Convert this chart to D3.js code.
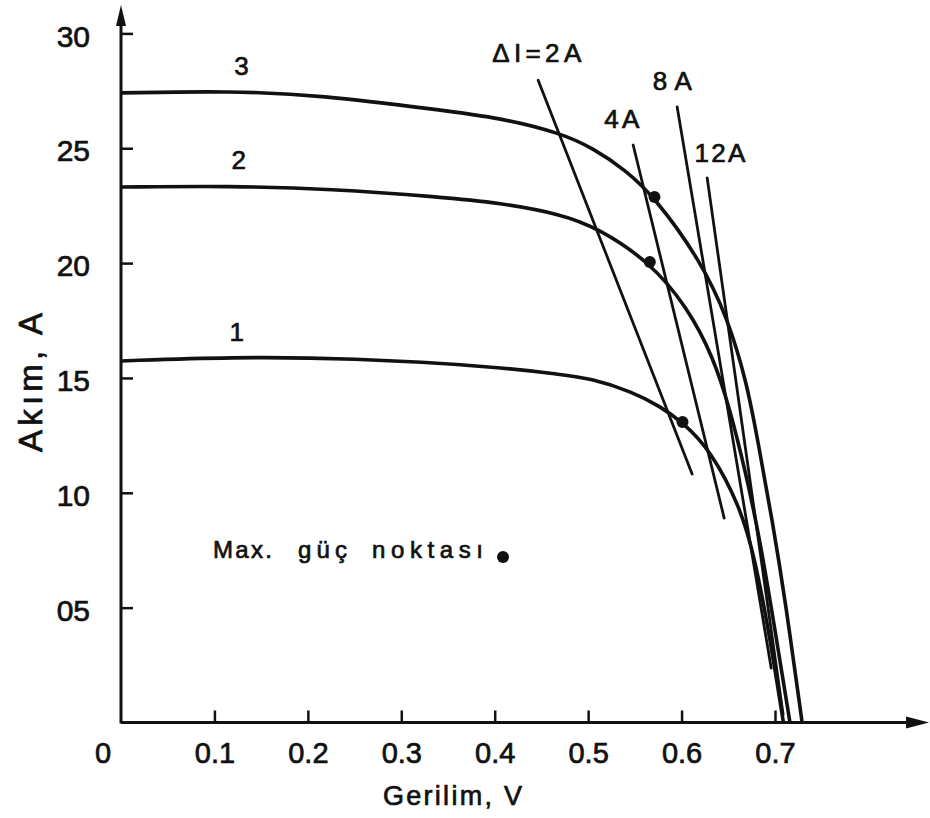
<!DOCTYPE html>
<html>
<head>
<meta charset="utf-8">
<script src="https://cdn.jsdelivr.net/npm/d3@7"></script>
<style>
  html, body { margin: 0; padding: 0; background: #fff; }
  svg { display: block; }
  text { font-family: "Liberation Sans", Arial, sans-serif; fill: #111; stroke: #111; stroke-width: 0.7px; }
</style>
</head>
<body>
<svg id="chart" width="930" height="818"></svg>
<script>
// I–V characteristics of a solar cell at three irradiance levels
// voltage in V, current in A
const curve1 = [[0,15.74],[0.117,15.91],[0.245,15.87],[0.406,15.48],[0.470,15.15],[0.502,14.99],[0.548,14.39],[0.577,13.76],[0.601,13.08],[0.631,11.86],[0.663,9.38],[0.679,7.07],[0.695,3.59],[0.709,0]];
const curve2 = [[0,23.31],[0.117,23.36],[0.224,23.23],[0.342,22.88],[0.406,22.62],[0.470,22.14],[0.510,21.54],[0.566,20.05],[0.606,18.09],[0.634,15.91],[0.652,13.60],[0.668,10.99],[0.684,7.95],[0.700,4.03],[0.716,0]];
const curve3 = [[0,27.41],[0.117,27.49],[0.213,27.32],[0.342,26.66],[0.406,26.32],[0.470,25.67],[0.505,25.01],[0.540,24.05],[0.571,22.88],[0.620,20.13],[0.649,17.65],[0.670,14.78],[0.682,12.17],[0.697,8.82],[0.711,5.33],[0.729,0]];
const curveNames = ["1", "2", "3"];
const curveLabelAt = [[0.124,16.6],[0.126,24.1],[0.129,28.2]];

// maximum power points of the three curves
const maxPowerPoints = [[0.601,13.08],[0.566,20.05],[0.571,22.88]];

// lines of constant current step ΔI
const stepNames = ["ΔI=2A", "4A", "8A", "12A"];
const stepLines = [
  [[0.4465,27.96],[0.6113,10.82]],
  [[0.5482,25.14],[0.6456,8.90]],
  [[0.5953,26.80],[0.6959,2.37]],
  [[0.6274,23.71],[0.7087,0.35]]
];
const stepLabelAt = [[0.445,28.75],[0.536,25.88],[0.590,27.54],[0.641,24.4]];
const stepLabelWidth = [89, 35, 39, 51];

const voltTicks = [0.1,0.2,0.3,0.4,0.5,0.6,0.7];
const voltTickLabels = ["0.1","0.2","0.3","0.4","0.5","0.6","0.7"];
const currentTicks = [5,10,15,20,25,30];
const currentTickLabels = ["05","10","15","20","25","30"];

const svg = d3.select("#chart");

const x = d3.scaleLinear().domain([0, 0.7]).range([121, 775]);
const y = d3.scaleLinear().domain([0, 30]).range([722.5, 33.4]);

// axes with arrow heads
const ink = "#111";
svg.append("line").attr("x1", x(0)).attr("x2", 912).attr("y1", y(0)).attr("y2", y(0))
  .attr("stroke", ink).attr("stroke-width", 3);
svg.append("path").attr("d", `M929,${y(0)} L906,${y(0)-6} L906,${y(0)+6} Z`).attr("fill", ink);
svg.append("line").attr("x1", x(0)).attr("x2", x(0)).attr("y1", y(0)+1).attr("y2", 22)
  .attr("stroke", ink).attr("stroke-width", 3);
svg.append("path").attr("d", `M${x(0)},5 L${x(0)-5},26 L${x(0)+5},26 Z`).attr("fill", ink);

// x ticks pointing up, labels below
const xAxis = d3.axisBottom(x).tickValues(voltTicks).tickSize(-12).tickPadding(20)
  .tickFormat((d, i) => voltTickLabels[i]);
const gx = svg.append("g").attr("transform", `translate(0,${y(0)})`).call(xAxis);
gx.select(".domain").remove();
gx.selectAll(".tick line").attr("stroke", ink).attr("stroke-width", 2.5);
gx.selectAll(".tick text").attr("font-size", 29).attr("fill", ink)
  .attr("font-family", "Liberation Sans, Arial, sans-serif");
svg.append("text").attr("x", 103).attr("y", y(0) + 40).attr("text-anchor", "middle")
  .attr("font-size", 29).text("0");

// y ticks pointing right, labels left
const yAxis = d3.axisLeft(y).tickValues(currentTicks).tickSize(-12).tickPadding(31)
  .tickFormat((d, i) => currentTickLabels[i]);
const gy = svg.append("g").attr("transform", `translate(${x(0)},0)`).call(yAxis);
gy.select(".domain").remove();
gy.selectAll(".tick line").attr("stroke", ink).attr("stroke-width", 2.5);
gy.selectAll(".tick text").attr("font-size", 30).attr("fill", ink)
  .attr("font-family", "Liberation Sans, Arial, sans-serif").attr("dy", "0.42em");

// axis titles
svg.append("text").attr("x", 383).attr("y", 805).attr("font-size", 27)
  .attr("textLength", 139).attr("lengthAdjust", "spacing").text("Gerilim, V");
svg.append("text").attr("transform", "translate(42,452) rotate(-90)")
  .attr("font-size", 33).attr("textLength", 139).attr("lengthAdjust", "spacing").text("Akım, A");

// constant ΔI lines
const line = d3.line().x(d => x(d[0])).y(d => y(d[1]));
svg.append("g").selectAll("path").data(stepLines).join("path")
  .attr("d", line).attr("fill", "none").attr("stroke", ink)
  .attr("stroke-width", 2.8).attr("stroke-linecap", "round");
svg.append("g").selectAll("text").data(stepNames).join("text")
  .attr("x", (d, i) => x(stepLabelAt[i][0]) - stepLabelWidth[i] / 2)
  .attr("y", (d, i) => y(stepLabelAt[i][1]))
  .attr("font-size", 26).attr("textLength", (d, i) => stepLabelWidth[i])
  .attr("lengthAdjust", "spacing").text(d => d);

// I–V curves
const curve = d3.line().x(d => x(d[0])).y(d => y(d[1])).curve(d3.curveBasis);
svg.append("g").selectAll("path").data([curve1, curve2, curve3]).join("path")
  .attr("d", curve).attr("fill", "none").attr("stroke", ink)
  .attr("stroke-width", 3.6).attr("stroke-linejoin", "round");
svg.append("g").selectAll("text").data(curveNames).join("text")
  .attr("x", (d, i) => x(curveLabelAt[i][0])).attr("y", (d, i) => y(curveLabelAt[i][1]))
  .attr("text-anchor", "middle").attr("font-size", 26).text(d => d);

// maximum power points
svg.append("g").selectAll("circle").data(maxPowerPoints).join("circle")
  .attr("cx", d => x(d[0])).attr("cy", d => y(d[1])).attr("r", 6).attr("fill", ink);

// legend
const legendWords = ["Max.", "güç", "noktası"];
const legendWordX = [213, 298, 372];
const legendWordW = [59, 49, 111];
svg.append("g").selectAll("text").data(legendWords).join("text")
  .attr("x", (d, i) => legendWordX[i]).attr("y", 558).attr("font-size", 24)
  .attr("textLength", (d, i) => legendWordW[i]).attr("lengthAdjust", "spacing").text(d => d);
svg.append("circle").attr("cx", 503).attr("cy", 557).attr("r", 6).attr("fill", ink);
</script>
</body>
</html>
